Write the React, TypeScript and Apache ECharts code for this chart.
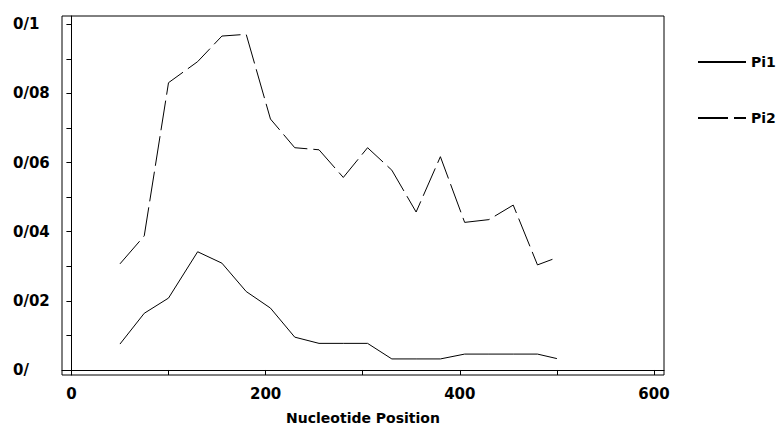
import React, { useEffect, useRef } from "react";
import * as echarts from "echarts";

const positions = [50, 75, 100, 130, 155, 180, 205, 230, 255, 280, 305, 330, 355, 380, 405, 430, 455, 480, 500];
const pi1 = [0.0075, 0.0164, 0.0208, 0.0342, 0.0309, 0.0227, 0.0179, 0.0095, 0.0077, 0.0077, 0.0077, 0.0032, 0.0032, 0.0032, 0.0046, 0.0046, 0.0046, 0.0046, 0.0033];
const pi2 = [0.0307, 0.0388, 0.0831, 0.0892, 0.0966, 0.0971, 0.0726, 0.0643, 0.0637, 0.0557, 0.0643, 0.0578, 0.0457, 0.0617, 0.0427, 0.0435, 0.0477, 0.0304, 0.0325];

const yLabelValues = [0, 0.02, 0.04, 0.06, 0.08, 0.1];
const yLabelTexts = ["0/", "0/02", "0/04", "0/06", "0/08", "0/1"];
const yTickValues = [0, 0.01, 0.02, 0.03, 0.04, 0.05, 0.06, 0.07, 0.08, 0.09, 0.1];
const xLabelValues = [0, 200, 400, 600];
const xLabelTexts = ["0", "200", "400", "600"];
const xTickValues = [0, 100, 200, 300, 400, 500, 600];

const FONT = "DejaVu Sans";

export default function App() {
  const ref = useRef<HTMLDivElement>(null);
  useEffect(() => {
    if (!ref.current) return;
    const chart = echarts.init(ref.current, null, { renderer: "svg" });
    const labelStyle = {
      color: "#000",
      fontFamily: FONT,
      fontWeight: "bold" as const,
      fontSize: 15,
    };
    chart.setOption({
      animation: false,
      backgroundColor: "#fff",
      grid: {
        left: 62,
        right: 115,
        top: 16,
        bottom: 51,
        containLabel: false,
        outerBoundsMode: "none",
        show: true,
        borderColor: "#000",
        borderWidth: 1,
        backgroundColor: "transparent",
      },
      legend: {
        orient: "vertical",
        left: 692,
        top: 50,
        itemWidth: 48,
        itemHeight: 14,
        itemGap: 42,
        itemStyle: { opacity: 0 },
        textStyle: {
          color: "#000",
          fontFamily: FONT,
          fontWeight: "bold",
          fontSize: 14,
          lineHeight: 14,
        },
        data: ["Pi1", "Pi2"],
      },
      xAxis: {
        type: "value",
        min: -9.7,
        max: 610.3,
        name: "Nucleotide Position",
        nameLocation: "middle",
        nameGap: 36,
        nameTextStyle: {
          color: "#000",
          fontFamily: FONT,
          fontWeight: "bold",
          fontSize: 14,
          verticalAlign: "top",
        },
        splitLine: { show: false },
        axisLine: { show: true, lineStyle: { color: "#000", width: 1 } },
        axisTick: {
          show: true,
          length: 5,
          customValues: xTickValues,
          lineStyle: { color: "#000", width: 1 },
        },
        axisLabel: {
          ...labelStyle,
          margin: 11,
          customValues: xLabelValues,
          formatter: (v: number) => {
            const i = xLabelValues.findIndex((x) => Math.abs(x - v) < 1e-6);
            return i >= 0 ? xLabelTexts[i] : "";
          },
        },
      },
      yAxis: {
        type: "value",
        min: -0.00145,
        max: 0.1024,
        splitLine: { show: false },
        axisLine: { show: true, lineStyle: { color: "#000", width: 1 } },
        axisTick: {
          show: true,
          length: 5,
          customValues: yTickValues,
          lineStyle: { color: "#000", width: 1 },
        },
        axisLabel: {
          ...labelStyle,
          align: "left",
          margin: 49,
          customValues: yLabelValues,
          formatter: (v: number) => {
            const i = yLabelValues.findIndex((x) => Math.abs(x - v) < 1e-9);
            return i >= 0 ? yLabelTexts[i] : "";
          },
        },
      },
      series: [
        {
          name: "Pi1",
          type: "line",
          data: positions.map((p, i) => [p, pi1[i]]),
          symbol: "none",
          lineStyle: { color: "#000", width: 1, type: "solid" },
          itemStyle: { color: "#000" },
        },
        {
          name: "Pi2",
          type: "line",
          data: positions.map((p, i) => [p, pi2[i]]),
          symbol: "none",
          lineStyle: { color: "#000", width: 1, type: [30, 6] },
          itemStyle: { color: "#000" },
        },
      ],
    });
    return () => chart.dispose();
  }, []);
  return (
    <div
      ref={ref}
      style={{ position: "fixed", left: 0, top: 0, width: 779, height: 426, background: "#fff" }}
    />
  );
}
